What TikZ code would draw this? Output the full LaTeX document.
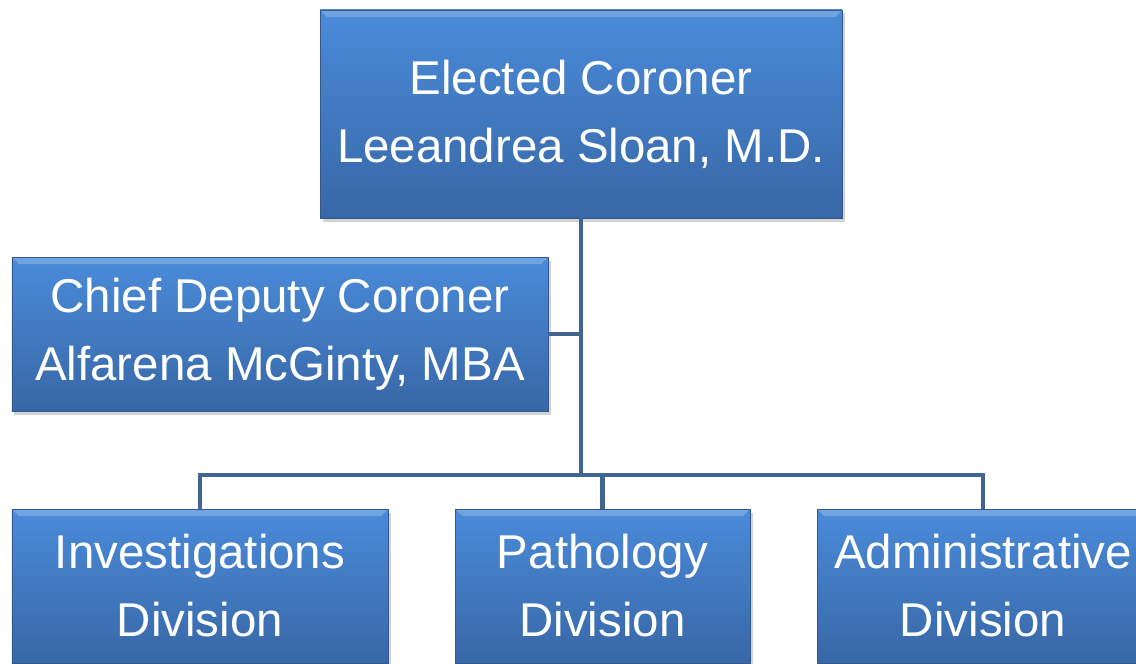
\documentclass[tikz,border=0pt]{standalone}
\usepackage{fontspec}
\setmainfont{Liberation Sans}
\usepackage{xcolor}
\usetikzlibrary{positioning, shadows}

\definecolor{boxtop}{RGB}{74,139,218}
\definecolor{boxbottom}{RGB}{56,103,166}
\definecolor{boxedge}{RGB}{50,88,142}
\definecolor{linkblue}{RGB}{64,101,146}

\begin{document}
\begin{tikzpicture}[
        node distance=4.4cm,
        officebox/.style={rectangle, draw=boxedge, line width=0.5pt, top color=boxtop, bottom color=boxbottom, text=white, align=center, inner sep=0pt, outer sep=0pt, font=\fontsize{27}{38.7}\selectfont,
            drop shadow={shadow xshift=0.05cm, shadow yshift=-0.07cm, opacity=0.35},
            path picture={\fill[white, opacity=0.22] (path picture bounding box.north west) -- (path picture bounding box.north east) -- ([xshift=-0.14cm, yshift=-0.14cm]path picture bounding box.north east) -- ([xshift=0.14cm, yshift=-0.14cm]path picture bounding box.north west) -- cycle;}},
        headbox/.style={officebox, minimum width=10.44cm, minimum height=4.16cm},
        deputybox/.style={officebox, minimum width=10.72cm, minimum height=3.08cm},
        divisionbox/.style={officebox, minimum height=3.08cm},
        link/.style={draw=linkblue, line width=2.3pt}
    ]
        \clip (0,0) rectangle (22.72,-13.28);

        % Nodes
        \node[headbox] (coroner) at (11.62,-2.28) {Elected Coroner\\Leeandrea Sloan, M.D.};
        \node[deputybox, below of=coroner, xshift=-6.02cm] (deputy) {Chief Deputy Coroner\\Alfarena McGinty, MBA};
        \node[divisionbox, minimum width=5.90cm, node distance=9.44cm, below of=coroner, xshift=0.43cm] (pathology) {Pathology\\Division};
        \node[divisionbox, minimum width=7.52cm, node distance=8.05cm, left of=pathology] (investigations) {Investigations\\Division};
        \node[divisionbox, minimum width=6.64cm, node distance=7.61cm, right of=pathology] (admin) {Administrative\\Division};
        \coordinate[below=5.14cm of coroner.south] (bus);

        % Lines
        \draw[link] (coroner.south) -- (bus);
        \draw[link] (deputy.east) -- (deputy.east -| coroner.south);
        \draw[link] (investigations.north) |- (bus) -| (admin.north);
        \draw[link] (pathology.north) -- (pathology.north |- bus);
    \end{tikzpicture}
\end{document}
